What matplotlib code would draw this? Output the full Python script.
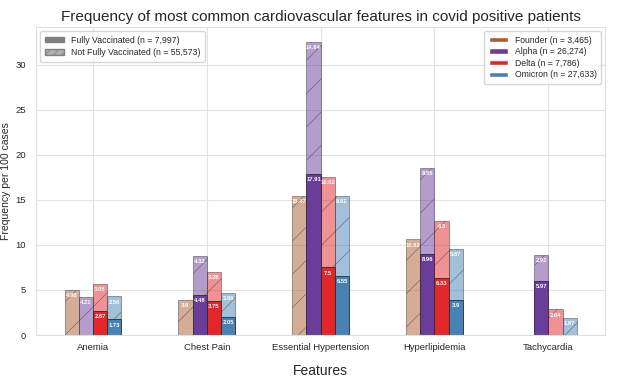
"""Grouped stacked bar chart: cardiovascular features by variant and vaccination status."""

from __future__ import annotations

import matplotlib

matplotlib.use("Agg")
import matplotlib.pyplot as plt
import numpy as np
import seaborn as sns
from matplotlib.patches import Patch

# --------------------------------------------------------------------- #
# Data (frequency per 100 cases)
# --------------------------------------------------------------------- #
FEATURES = ["Anemia", "Chest Pain", "Essential Hypertension", "Hyperlipidemia", "Tachycardia"]
VARIANTS = ["Founder (n = 3,465)", "Alpha (n = 26,274)", "Delta (n = 7,786)", "Omicron (n = 27,633)"]

# fully vaccinated (solid, bottom segment)
FULLY_FOUNDER = [0.0, 0.0, 0.0, 0.0, 0.0]
FULLY_ALPHA = [0.0, 4.48, 17.91, 8.96, 5.97]
FULLY_DELTA = [2.67, 3.75, 7.5, 6.33, 0.0]
FULLY_OMICRON = [1.73, 2.05, 6.55, 3.9, 0.0]

# not fully vaccinated (hatched, stacked on top)
NOT_FOUNDER = [4.98, 3.9, 15.47, 10.62, 0.0]
NOT_ALPHA = [4.21, 4.32, 14.64, 9.55, 2.92]
NOT_DELTA = [3.05, 3.28, 10.02, 6.3, 2.84]
NOT_OMICRON = [2.56, 2.66, 8.92, 5.67, 1.87]

VAX_LABELS = ["Fully Vaccinated (n = 7,997)", "Not Fully Vaccinated (n = 55,573)"]

COLORS = ["#ad5d30", "#6a3d9a", "#e3262a", "#4682b4"]
EDGE = "#2a2a2a"


def label_segment(ax, x, bottom, height):
    if height <= 0:
        return
    ax.text(x, bottom + height - 0.35, f"{height:g}", ha="center", va="top",
            color="white", fontsize=4.2, fontweight="bold")


def main() -> None:
    sns.set_style("whitegrid", {"grid.color": "#e3e3e3"})
    plt.rcParams["font.family"] = ["Liberation Sans", "DejaVu Sans"]
    plt.rcParams["hatch.linewidth"] = 0.5

    fully = [FULLY_FOUNDER, FULLY_ALPHA, FULLY_DELTA, FULLY_OMICRON]
    not_fully = [NOT_FOUNDER, NOT_ALPHA, NOT_DELTA, NOT_OMICRON]

    fig = plt.figure(figsize=(6.22, 3.79), dpi=100)
    ax = fig.add_axes([0.058, 0.116, 0.915, 0.813])

    x = np.arange(len(FEATURES))
    width = 0.125
    for i, color in enumerate(COLORS):
        pos = x + (i - 1.5) * width
        base = np.array(fully[i])
        top = np.array(not_fully[i])
        ax.bar(pos, base, width, color=color, edgecolor=EDGE, linewidth=0.6)
        ax.bar(pos, top, width, bottom=base, color=color, alpha=0.5,
               edgecolor=EDGE, linewidth=0.6, hatch="/")
        for xi, b, t in zip(pos, base, top):
            label_segment(ax, xi, 0, b)
            label_segment(ax, xi, b, t)

    ax.set_xlim(-0.5, len(FEATURES) - 0.5)
    ax.set_ylim(0, 34.2)
    ax.set_xticks(x)
    ax.set_xticklabels(FEATURES, fontsize=6.8)
    ax.tick_params(axis="y", labelsize=6.8, pad=4)
    ax.tick_params(axis="x", pad=2)
    ax.set_ylabel("Frequency per 100 cases", fontsize=7.5, labelpad=3)
    ax.set_xlabel("Features", fontsize=10, labelpad=9)
    ax.set_title("Frequency of most common cardiovascular features in covid positive patients",
                 fontsize=11, pad=4)
    for side in ax.spines.values():
        side.set_color("#dddddd")

    vax_handles = [
        Patch(facecolor="#808080", edgecolor="#808080", label=VAX_LABELS[0]),
        Patch(facecolor="#b0b0b0", edgecolor="#808080", hatch="////", label=VAX_LABELS[1]),
    ]
    leg1 = ax.legend(handles=vax_handles, loc="upper left", fontsize=6.3,
                     handlelength=2.2, handleheight=0.6, borderpad=0.5, labelspacing=0.4)
    ax.add_artist(leg1)

    var_handles = [Patch(facecolor=c, label=lbl) for c, lbl in zip(COLORS, VARIANTS)]
    ax.legend(handles=var_handles, loc="upper right", fontsize=6.2,
              handlelength=2.2, handleheight=0.6, borderpad=0.5, labelspacing=0.3)

    fig.savefig("out.png", dpi=100)
    plt.close(fig)


if __name__ == "__main__":
    main()
